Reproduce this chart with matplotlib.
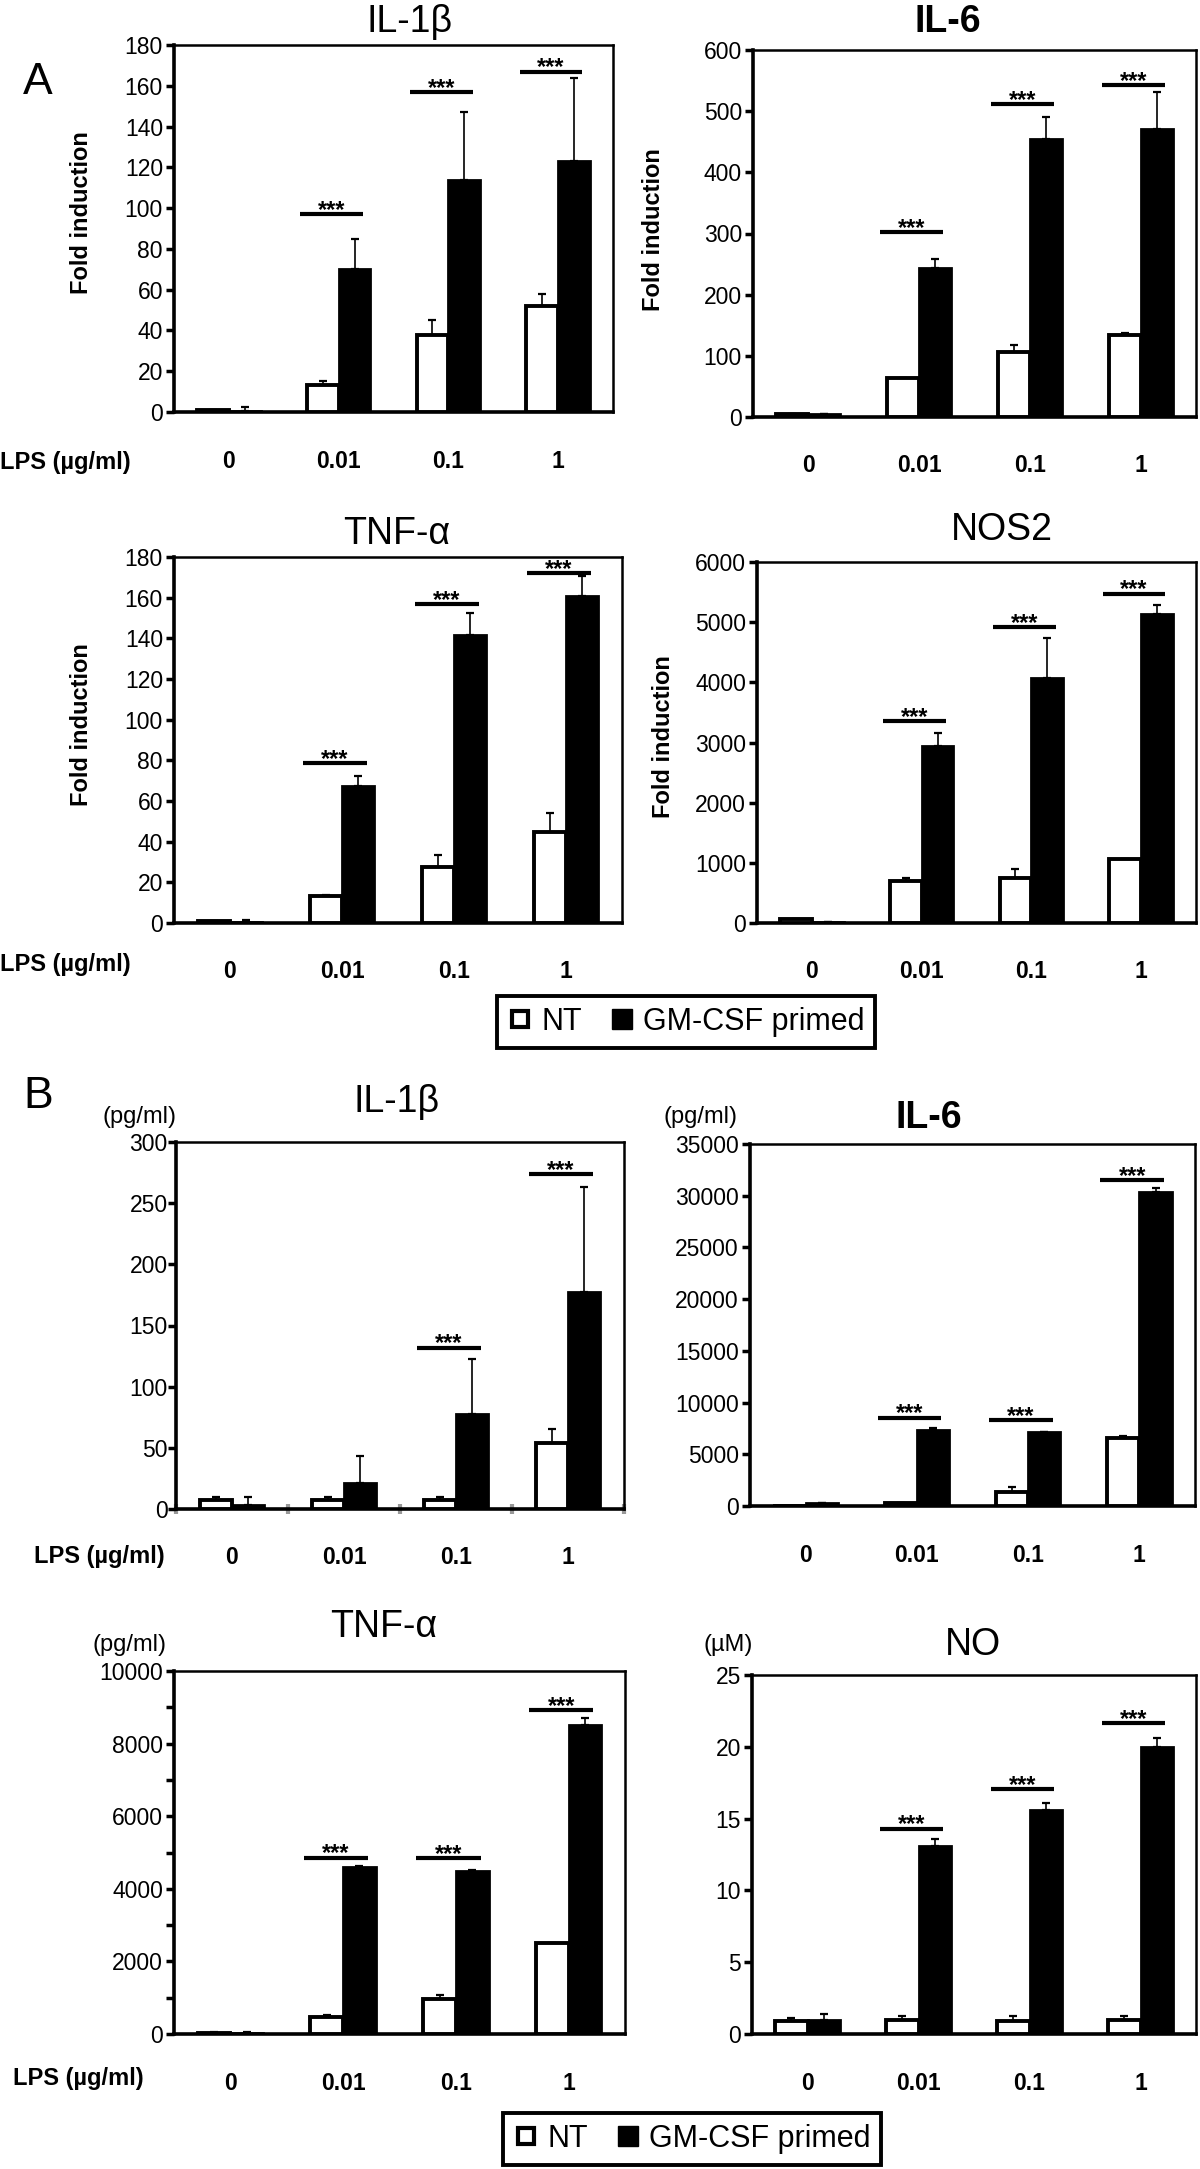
import matplotlib
matplotlib.use('Agg')
import matplotlib.pyplot as plt
from matplotlib.lines import Line2D

plt.rcParams['font.family'] = ['Liberation Sans', 'DejaVu Sans']

W, H = 1200, 2169

categories = ['0', '0.01', '0.1', '1']

# Panel A: fold induction (qPCR)
a_il1b_nt = [1, 13, 38, 52]
a_il1b_nt_err = [0, 2, 7, 6]
a_il1b_gm = [0.3, 70, 114, 123]
a_il1b_gm_err = [2, 15, 33, 41]
a_il1b_sig = [None, 97, 157, 167]

a_il6_nt = [5, 64, 106, 134]
a_il6_nt_err = [0, 0, 11, 3]
a_il6_gm = [5, 244, 454, 471]
a_il6_gm_err = [0, 15, 37, 61]
a_il6_sig = [None, 302, 512, 543]

a_tnf_nt = [1, 13.5, 27.6, 44.8]
a_tnf_nt_err = [0, 0.5, 5.8, 9.2]
a_tnf_gm = [0.5, 67.6, 141.7, 160.7]
a_tnf_gm_err = [1, 4.8, 10.6, 10]
a_tnf_sig = [None, 78.5, 156.8, 172]

a_nos2_nt = [71, 694, 753, 1067]
a_nos2_nt_err = [0, 60, 150, 0]
a_nos2_gm = [10, 2947, 4073, 5140]
a_nos2_gm_err = [0, 213, 670, 149]
a_nos2_sig = [None, 3350, 4922, 5473]

# Panel B: secreted protein / NO
b_il1b_nt = [7.6, 7.6, 7.6, 53.8]
b_il1b_nt_err = [2.4, 2.4, 2.4, 11.5]
b_il1b_gm = [3.5, 21.2, 77.5, 177]
b_il1b_gm_err = [6.5, 21.8, 45, 86]
b_il1b_sig = [None, None, 132, 273.6]

b_il6_nt = [0, 258, 1387, 6545]
b_il6_nt_err = [0, 0, 420, 225]
b_il6_gm = [258, 7350, 7190, 30330]
b_il6_gm_err = [0, 150, 0, 450]
b_il6_sig = [None, 8540, 8320, 31480]

b_tnf_nt = [20, 469, 968, 2515]
b_tnf_nt_err = [30, 50, 100, 0]
b_tnf_gm = [20, 4591, 4481, 8503]
b_tnf_gm_err = [30, 40, 30, 200]
b_tnf_sig = [None, 4860, 4840, 8932]

b_no_nt = [0.89, 0.96, 0.89, 0.96]
b_no_nt_err = [0.2, 0.26, 0.33, 0.26]
b_no_gm = [0.96, 13.07, 15.6, 19.97]
b_no_gm_err = [0.44, 0.51, 0.47, 0.63]
b_no_sig = [None, 14.3, 17.06, 21.65]


def box(left, top, right, bottom):
    return [left / W, 1 - bottom / H, (right - left) / W, (bottom - top) / H]


def panel(fig, rect, ymax, ystep, nt, nt_err, gm, gm_err, sig, minor=None):
    ax = fig.add_axes(rect)
    x = list(range(len(categories)))
    xn = [i - 0.145 for i in x]
    xg = [i + 0.145 for i in x]
    ax.bar(xn, nt, width=0.29, color='white', edgecolor='black', linewidth=2.8, zorder=3)
    ax.bar(xg, gm, width=0.29, color='black', edgecolor='black', linewidth=2.0, zorder=3)
    ax.errorbar(xn, nt, yerr=[[0] * 4, nt_err], fmt='none', ecolor='black',
                elinewidth=1.2, capsize=3, capthick=1.6, zorder=2)
    ax.errorbar(xg, gm, yerr=[[0] * 4, gm_err], fmt='none', ecolor='black',
                elinewidth=1.2, capsize=3, capthick=1.6, zorder=2)
    for i, s in enumerate(sig):
        if s is None:
            continue
        ax.plot([i - 0.35, i + 0.22], [s, s], color='black', lw=3, solid_capstyle='butt')
        ax.annotate('***', xy=(i - 0.065, s), xytext=(0, -2), textcoords='offset points',
                    ha='center', va='baseline', fontsize=17, fontweight='bold')
    ax.set_xlim(-0.5, 3.5)
    ax.set_ylim(0, ymax)
    ax.set_yticks([v * ystep for v in range(int(round(ymax / ystep)) + 1)])
    if minor:
        ax.set_yticks([v * minor for v in range(int(round(ymax / minor)) + 1)], minor=True)
        ax.tick_params(axis='y', which='minor', direction='out', length=6, width=2.5)
    ax.set_xticks(x)
    ax.set_xticklabels(categories, fontsize=16.5, fontweight='bold')
    ax.tick_params(axis='x', length=0, pad=27)
    ax.tick_params(axis='y', which='major', direction='out', length=6, width=2.5,
                   labelsize=16.5, pad=2)
    for side in ['left', 'bottom']:
        ax.spines[side].set_linewidth(2.6)
    for side in ['top', 'right']:
        ax.spines[side].set_linewidth(1.8)
    return ax


fig = plt.figure(figsize=(W / 100, H / 100), dpi=100)

# ---- A ----
panel(fig, box(174, 45, 613, 412), 180, 20, a_il1b_nt, a_il1b_nt_err, a_il1b_gm, a_il1b_gm_err, a_il1b_sig)
panel(fig, box(753, 50, 1196, 417), 600, 100, a_il6_nt, a_il6_nt_err, a_il6_gm, a_il6_gm_err, a_il6_sig)
panel(fig, box(174, 557, 622, 923), 180, 20, a_tnf_nt, a_tnf_nt_err, a_tnf_gm, a_tnf_gm_err, a_tnf_sig)
panel(fig, box(757, 562, 1196, 923), 6000, 1000, a_nos2_nt, a_nos2_nt_err, a_nos2_gm, a_nos2_gm_err, a_nos2_sig)

# ---- B ----
ax_b1 = panel(fig, box(176, 1142, 624, 1509), 300, 50, b_il1b_nt, b_il1b_nt_err, b_il1b_gm, b_il1b_gm_err, b_il1b_sig)
ax_b1.set_xticks([-0.5, 0.5, 1.5, 2.5, 3.5], minor=True)
ax_b1.tick_params(axis='x', which='minor', direction='inout', length=7, width=3, color='#999999')
ax_b1.tick_params(axis='y', pad=0)
panel(fig, box(750, 1144, 1195, 1506), 35000, 5000, b_il6_nt, b_il6_nt_err, b_il6_gm, b_il6_gm_err, b_il6_sig)
panel(fig, box(174, 1671, 625, 2034), 10000, 2000, b_tnf_nt, b_tnf_nt_err, b_tnf_gm, b_tnf_gm_err, b_tnf_sig, minor=1000)
panel(fig, box(752, 1675, 1196, 2034), 25, 5, b_no_nt, b_no_nt_err, b_no_gm, b_no_gm_err, b_no_sig)

# titles
titles = [('IL-1\u03b2', 410, 22, 'normal'), ('IL-6', 948, 22, 'bold'),
          ('TNF-\u03b1', 397, 534, 'normal'), ('NOS2', 1002, 530, 'normal'),
          ('IL-1\u03b2', 397, 1102, 'normal'), ('IL-6', 929, 1118, 'bold'),
          ('TNF-\u03b1', 384, 1627, 'normal'), ('NO', 973, 1645, 'normal')]
for t, tx, ty, fw in titles:
    fig.text(tx / W, 1 - ty / H, t, ha='center', va='center', fontsize=27, fontweight=fw)

fig.text(38 / W, 1 - 82 / H, 'A', ha='center', va='center', fontsize=32)
fig.text(38 / W, 1 - 1097 / H, 'B', ha='center', va='center', fontsize=32)

for fx, fy in [(81, 213), (654, 230), (81, 725), (663, 737)]:
    fig.text(fx / W, 1 - fy / H, 'Fold induction', rotation=90, ha='center', va='center',
             fontsize=17, fontweight='bold')

for lx, ly in [(0, 463), (0, 964), (34, 1557), (13, 2079)]:
    fig.text(lx / W, 1 - ly / H, 'LPS (\u00b5g/ml)', ha='left', va='center',
             fontsize=17, fontweight='bold')

for ut, ux, uy in [('(pg/ml)', 140, 1117), ('(pg/ml)', 701, 1117),
                   ('(pg/ml)', 130, 1645), ('(\u00b5M)', 728, 1645)]:
    fig.text(ux / W, 1 - uy / H, ut, ha='center', va='center', fontsize=17)

handles = [Line2D([], [], marker='s', ls='none', markersize=12, markerfacecolor='white',
                  markeredgecolor='black', markeredgewidth=3),
           Line2D([], [], marker='s', ls='none', markersize=15, markerfacecolor='black',
                  markeredgecolor='black')]
for cx, cy in [(686, 1022), (692, 2139)]:
    leg = fig.legend(handles, ['NT', 'GM-CSF primed'], loc='center',
                     bbox_to_anchor=(cx / W, 1 - cy / H), ncol=2, fontsize=22,
                     frameon=True, fancybox=False, framealpha=1, edgecolor='black',
                     handlelength=0.8, handletextpad=0.3, columnspacing=0.9,
                     borderpad=0.35)
    leg.get_frame().set_linewidth(2.8)

fig.savefig('out.png', dpi=100)
